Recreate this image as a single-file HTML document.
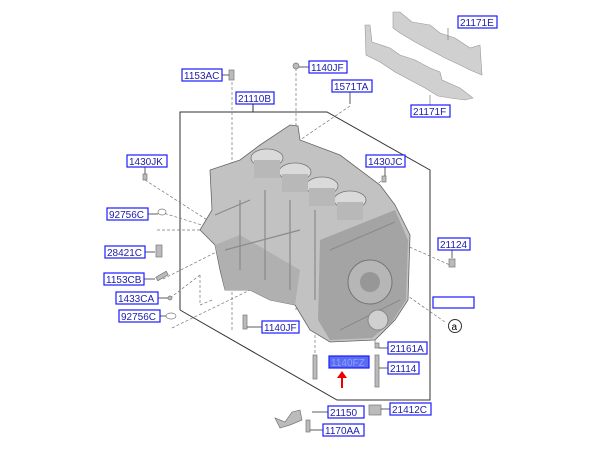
<!DOCTYPE html>
<html><head><style>
body{margin:0;background:#fff;}
svg{display:block;font-family:"Liberation Sans",sans-serif;}
.l rect{fill:#fff;stroke:#1a1aff;stroke-width:1.2;}
.l text{font-size:10px;fill:#1c1ca8;}
</style></head><body>
<svg width="600" height="460" viewBox="0 0 600 460">
<!-- bearing strips -->
<g fill="#d0d0d0" stroke="#999" stroke-width="0.6">
<polygon points="393,12 400,12 412,22 430,25 440,33 455,38 470,48 480,45 482,75 470,70 460,65 445,58 430,50 415,42 400,33 393,28"/>
<polygon points="365,25 370,25 372,42 390,48 400,55 415,60 430,68 440,72 442,80 460,88 473,98 465,100 450,98 438,96 425,88 410,80 395,72 380,62 366,55"/>
</g>
<g stroke="#888" stroke-width="0.8" fill="none">
<line x1="448" y1="28" x2="448" y2="40"/><line x1="430" y1="95" x2="430" y2="106"/>
</g>
<!-- frame -->
<g stroke="#333" stroke-width="1" fill="none">
<polyline points="180,310 180,112 327,112 430,170 430,400 337,400 180,310"/>
<line x1="253" y1="104" x2="253" y2="112"/>
</g>
<!-- dashed leaders -->
<g stroke="#777" stroke-width="0.7" fill="none" stroke-dasharray="3,2">
<line x1="232" y1="77" x2="232" y2="330"/>
<line x1="296" y1="68" x2="296" y2="310"/>
<line x1="350" y1="106" x2="300" y2="140"/>
<line x1="145" y1="180" x2="215" y2="225"/>
<line x1="385" y1="178" x2="370" y2="190"/>
<line x1="160" y1="212" x2="250" y2="240"/>
<line x1="157" y1="230" x2="240" y2="230"/>
<line x1="163" y1="279" x2="230" y2="245"/>
<line x1="170" y1="298" x2="200" y2="275"/>
<polyline points="200,275 200,305 212,300"/>
<line x1="172" y1="328" x2="250" y2="290"/>
<line x1="405" y1="245" x2="450" y2="265"/>
<line x1="385" y1="280" x2="445" y2="322"/>
<line x1="315" y1="330" x2="315" y2="360"/>
<line x1="375" y1="330" x2="375" y2="345"/>
</g>
<!-- engine block -->
<polygon fill="#c2c2c2" stroke="#666" stroke-width="0.8" points="290,125 298,126 300,140 340,155 380,185 395,205 410,235 408,300 395,320 375,340 330,342 310,330 295,305 270,300 250,290 225,290 220,270 215,245 200,230 212,210 210,170 240,160 260,145"/>
<polygon fill="#a4a4a4" points="320,240 395,210 408,240 406,300 392,322 372,338 330,340 318,320"/>
<polygon fill="#b0b0b0" points="215,245 240,235 300,270 295,305 270,300 250,290 225,290"/>
<g stroke="#8a8a8a" stroke-width="1.2" fill="none">
<line x1="240" y1="200" x2="240" y2="270"/><line x1="265" y1="190" x2="265" y2="280"/>
<line x1="290" y1="200" x2="290" y2="290"/><line x1="315" y1="210" x2="315" y2="300"/>
<line x1="215" y1="215" x2="250" y2="200"/><line x1="225" y1="250" x2="300" y2="230"/>
<line x1="330" y1="250" x2="395" y2="222"/><line x1="340" y1="330" x2="400" y2="300"/>
</g>
<g fill="#dadada" stroke="#777" stroke-width="0.8">
<ellipse cx="267" cy="158" rx="16" ry="9"/><ellipse cx="295" cy="172" rx="16" ry="9"/>
<ellipse cx="322" cy="186" rx="16" ry="9"/><ellipse cx="350" cy="200" rx="16" ry="9"/>
</g>
<g fill="#b8b8b8"><rect x="254" y="160" width="26" height="18"/><rect x="282" y="174" width="26" height="18"/><rect x="309" y="188" width="26" height="18"/><rect x="337" y="202" width="26" height="18"/></g>
<circle cx="370" cy="282" r="22" fill="#b6b6b6" stroke="#777"/>
<circle cx="370" cy="282" r="10" fill="#979797"/>
<circle cx="378" cy="320" r="10" fill="#d0d0d0" stroke="#888"/>
<!-- small parts -->
<g fill="#bbb" stroke="#777" stroke-width="0.7">
<rect x="229" y="70" width="5" height="10"/><circle cx="296" cy="66" r="3"/>
<rect x="143" y="174" width="4" height="6"/><rect x="382" y="176" width="4" height="6"/>
<ellipse cx="162" cy="212" rx="4" ry="3" fill="#fff"/><rect x="156" y="245" width="6" height="12"/>
<rect x="156" y="274" width="12" height="4" transform="rotate(-30 162 276)"/><circle cx="170" cy="298" r="2"/>
<ellipse cx="171" cy="316" rx="5" ry="3" fill="#fff"/><rect x="449" y="259" width="6" height="8"/>
<rect x="243" y="315" width="4" height="14"/><rect x="313" y="355" width="4" height="24"/>
<rect x="375" y="343" width="4" height="5"/><rect x="375" y="355" width="4" height="32"/>
<rect x="369" y="405" width="12" height="10"/><path d="M275,418 L285,422 292,412 300,410 302,420 290,425 280,428 Z"/>
<rect x="306" y="420" width="4" height="12"/>
</g>
<circle cx="455" cy="326" r="6.5" fill="#fff" stroke="#333"/><text x="451.5" y="330" font-size="10">a</text>
<!-- label leaders -->
<g stroke="#333" stroke-width="0.8">
<line x1="222" y1="75" x2="229" y2="75"/><line x1="299" y1="67" x2="309" y2="67"/>
<line x1="350" y1="92" x2="350" y2="104"/><line x1="145" y1="167" x2="145" y2="174"/>
<line x1="385" y1="167" x2="385" y2="176"/><line x1="148" y1="214" x2="158" y2="214"/>
<line x1="145" y1="252" x2="155" y2="252"/><line x1="144" y1="279" x2="155" y2="279"/>
<line x1="158" y1="298" x2="168" y2="298"/><line x1="160" y1="316" x2="166" y2="316"/>
<line x1="247" y1="327" x2="262" y2="327"/><line x1="379" y1="348" x2="388" y2="348"/>
<line x1="379" y1="368" x2="388" y2="368"/><line x1="452" y1="250" x2="452" y2="258"/>
<line x1="312" y1="412" x2="328" y2="412"/><line x1="381" y1="409" x2="390" y2="409"/>
<line x1="310" y1="430" x2="323" y2="430"/>
</g>
<!-- labels -->
<g class="l">
<rect x="458" y="16" width="39" height="12"/><text x="460" y="26">21171E</text>
<rect x="411" y="105" width="39" height="12"/><text x="413" y="115">21171F</text>
<rect x="182" y="69" width="40" height="12"/><text x="184" y="79">1153AC</text>
<rect x="309" y="61" width="38" height="12"/><text x="311" y="71">1140JF</text>
<rect x="332" y="80" width="40" height="12"/><text x="334" y="90">1571TA</text>
<rect x="236" y="92" width="38" height="12"/><text x="238" y="102">21110B</text>
<rect x="127" y="155" width="40" height="12"/><text x="129" y="165">1430JK</text>
<rect x="366" y="155" width="39" height="12"/><text x="368" y="165">1430JC</text>
<rect x="107" y="208" width="41" height="12"/><text x="109" y="218">92756C</text>
<rect x="105" y="246" width="40" height="12"/><text x="107" y="256">28421C</text>
<rect x="438" y="238" width="32" height="12"/><text x="440" y="248">21124</text>
<rect x="104" y="273" width="40" height="12"/><text x="106" y="283">1153CB</text>
<rect x="116" y="292" width="42" height="12"/><text x="118" y="302">1433CA</text>
<rect x="433" y="297" width="41" height="11"/>
<rect x="119" y="310" width="41" height="12"/><text x="121" y="320">92756C</text>
<rect x="262" y="321" width="37" height="12"/><text x="264" y="331">1140JF</text>
<rect x="388" y="342" width="39" height="12"/><text x="390" y="352">21161A</text>
<rect x="329" y="356" width="40" height="12" style="fill:#5a6cf0"/><text x="331" y="366" style="fill:#8ea0ff">1140FZ</text>
<rect x="388" y="362" width="31" height="12"/><text x="390" y="372">21114</text>
<rect x="328" y="406" width="36" height="12"/><text x="330" y="416">21150</text>
<rect x="390" y="403" width="41" height="12"/><text x="392" y="413">21412C</text>
<rect x="323" y="424" width="41" height="12"/><text x="325" y="434">1170AA</text>
</g>
<!-- red arrow -->
<line x1="342" y1="388" x2="342" y2="377" stroke="#e00" stroke-width="2"/>
<polygon points="337,378 347,378 342,371" fill="#e00"/>
</svg>
</body></html>
